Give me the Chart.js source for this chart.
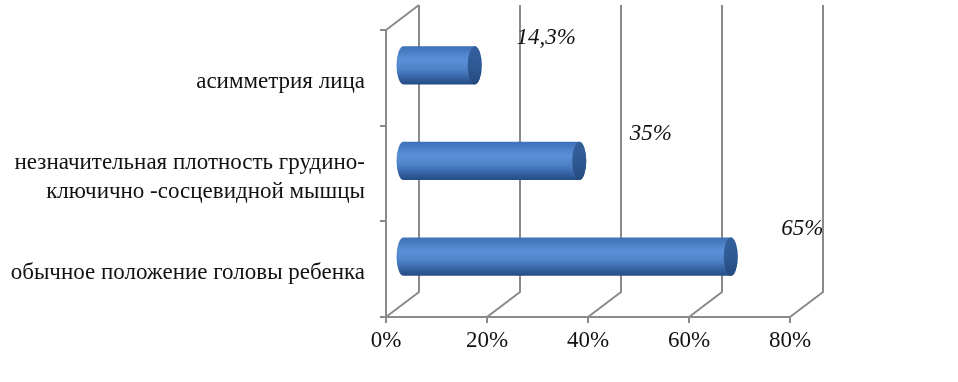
<!DOCTYPE html>
<html lang="ru">
<head>
<meta charset="utf-8">
<script src="https://cdn.jsdelivr.net/npm/chart.js@4.4.1/dist/chart.umd.min.js"></script>
<style>
  html, body { margin: 0; padding: 0; background: #fff; }
  #wrap { width: 958px; height: 382px; }
</style>
</head>
<body>
<div id="wrap"><canvas id="chart" width="958" height="382"></canvas></div>
<script>
const categories = [
  "асимметрия лица",
  ["незначительная плотность грудино-", "ключично -сосцевидной мышцы"],
  "обычное положение головы ребенка"
];
const values = [14.3, 35, 65];
const tickValues = [0, 20, 40, 60, 80];

const gridColor = "#8a8a8a";
const textColor = "#111";
const fontFamily = "'Liberation Serif', 'Times New Roman', serif";
const depth = { x: 33, y: -25 }; // offset of the back wall (fake 3d)

// back wall + floor lines, placed from the x scale ticks
const wallPlugin = {
  id: "wall3d",
  beforeDatasetsDraw(chart) {
    const { ctx, chartArea, scales } = chart;
    const xs = scales.x;
    ctx.save();
    ctx.strokeStyle = gridColor;
    ctx.lineWidth = 2;
    ctx.beginPath();
    tickValues.forEach(v => {
      const px = xs.getPixelForValue(v);
      ctx.moveTo(px, chartArea.bottom);
      ctx.lineTo(px + depth.x, chartArea.bottom + depth.y);
      ctx.lineTo(px + depth.x, chartArea.top + depth.y);
    });
    const p0 = xs.getPixelForValue(0);
    ctx.moveTo(p0, chartArea.top);
    ctx.lineTo(p0 + depth.x, chartArea.top + depth.y);
    ctx.stroke();
    ctx.restore();
  }
};

// draws each bar as a cylinder sitting half way into the depth
const cylinderPlugin = {
  id: "cylinders",
  afterDatasetsDraw(chart) {
    const { ctx } = chart;
    const meta = chart.getDatasetMeta(0);
    const dx = depth.x / 2, dy = depth.y / 2;
    ctx.save();
    meta.data.forEach((bar, i) => {
      const x0 = bar.base + dx, x1 = bar.x + dx;
      const yc = bar.y + dy, r = bar.height / 2, rx = 7;
      const top = yc - r, bottom = yc + r;

      const g = ctx.createLinearGradient(0, top, 0, bottom);
      g.addColorStop(0, "#3d70b6");
      g.addColorStop(0.35, "#5b90d8");
      g.addColorStop(0.6, "#4f82c9");
      g.addColorStop(0.85, "#335f9f");
      g.addColorStop(1, "#244b82");
      ctx.beginPath();
      ctx.moveTo(x1, top);
      ctx.lineTo(x0, top);
      ctx.ellipse(x0, yc, rx, r, 0, -Math.PI / 2, Math.PI / 2, true);
      ctx.lineTo(x1, bottom);
      ctx.ellipse(x1, yc, rx, r, 0, Math.PI / 2, -Math.PI / 2, true);
      ctx.closePath();
      ctx.fillStyle = g;
      ctx.fill();

      const cg = ctx.createLinearGradient(0, top, 0, bottom);
      cg.addColorStop(0, "#33609c");
      cg.addColorStop(0.5, "#2f5a94");
      cg.addColorStop(1, "#244a7e");
      ctx.beginPath();
      ctx.ellipse(x1, yc, rx, r, 0, 0, Math.PI * 2);
      ctx.fillStyle = cg;
      ctx.fill();

      // value label
      ctx.font = "italic 23px " + fontFamily;
      ctx.fillStyle = textColor;
      ctx.textAlign = "center";
      ctx.textBaseline = "middle";
      const txt = String(values[i]).replace(".", ",") + "%";
      ctx.fillText(txt, bar.x + 88, bar.y - 40);
    });
    ctx.restore();
  }
};

new Chart(document.getElementById("chart"), {
  type: "bar",
  data: {
    labels: categories,
    datasets: [{
      data: values,
      backgroundColor: "rgba(0,0,0,0)",
      barPercentage: 0.8,
      categoryPercentage: 0.5
    }]
  },
  options: {
    indexAxis: "y",
    responsive: false,
    animation: false,
    layout: { padding: { top: 29, right: 168, left: 0, bottom: 0 } },
    plugins: { legend: { display: false }, tooltip: { enabled: false } },
    scales: {
      x: {
        min: 0,
        max: 80,
        afterFit(scale) { scale.height = 65; },
        afterBuildTicks(scale) { scale.ticks = tickValues.map(v => ({ value: v })); },
        ticks: {
          callback: v => v + "%",
          color: textColor,
          font: { family: fontFamily, size: 23 },
          padding: 4,
          maxRotation: 0
        },
        grid: { drawOnChartArea: false, color: gridColor, lineWidth: 2, tickLength: 6 },
        border: { color: gridColor, width: 2 }
      },
      y: {
        afterFit(scale) { scale.width = 386; },
        ticks: {
          color: textColor,
          font: { family: fontFamily, size: 23, lineHeight: 1.3 },
          padding: 15,
          labelOffset: 4
        },
        grid: { drawOnChartArea: false, color: gridColor, lineWidth: 2, tickLength: 6 },
        border: { color: gridColor, width: 2 }
      }
    }
  },
  plugins: [wallPlugin, cylinderPlugin]
});
</script>
</body>
</html>
